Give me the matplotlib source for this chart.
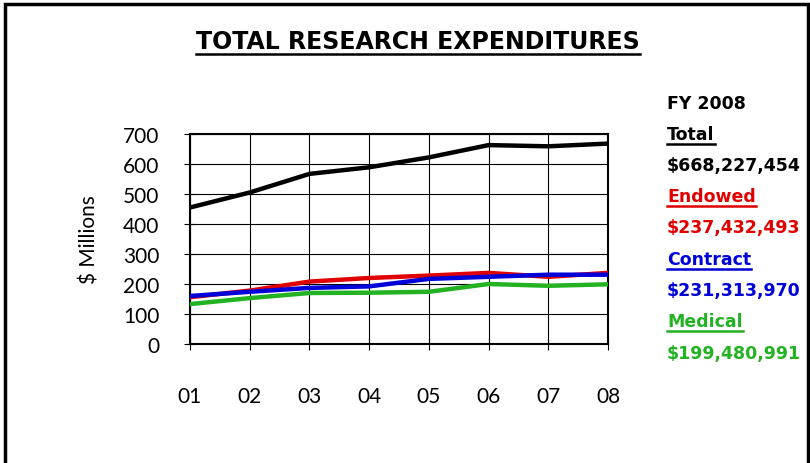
import matplotlib
matplotlib.use("Agg")
import matplotlib.pyplot as plt
from matplotlib.patches import Rectangle

years = ["01", "02", "03", "04", "05", "06", "07", "08"]
total = [455, 505, 567, 589, 622, 663, 659, 668]
endowed = [156, 178, 208, 220, 228, 237, 224, 237]
contract = [160, 174, 187, 192, 217, 224, 231, 231]
medical = [133, 153, 170, 171, 174, 200, 194, 199]

legend_labels = ["Total", "Endowed", "Contract", "Medical"]
legend_amounts = ["$668,227,454", "$237,432,493", "$231,313,970", "$199,480,991"]
legend_colors = ["black", "#e00000", "#0000d8", "#22b222"]

plt.rcParams["font.family"] = ["Lato", "DejaVu Sans"]

fig = plt.figure(figsize=(8.1, 4.64), dpi=100)
ax = fig.add_axes([190 / 810, 1 - 345 / 464, 418 / 810, 210 / 464])

x = list(range(len(years)))
ax.plot(x, total, color=legend_colors[0], lw=3.2, zorder=3)
ax.plot(x, endowed, color=legend_colors[1], lw=3.2, zorder=3)
ax.plot(x, contract, color=legend_colors[2], lw=3.2, zorder=4)
ax.plot(x, medical, color=legend_colors[3], lw=3.2, zorder=3)

ax.set_xlim(0, len(years) - 1)
ax.set_ylim(0, 700)
ax.set_yticks(range(0, 701, 100))
ax.set_xticks(x)
ax.set_xticklabels(years)
ax.grid(True, color="black", lw=0.8)
ax.tick_params(axis="x", direction="inout", length=8, pad=26, labelsize=15)
ax.tick_params(axis="y", direction="inout", length=8, pad=18, labelsize=15)
for s in ax.spines.values():
    s.set_linewidth(1.5)
ax.set_ylabel("$ Millions", fontsize=15, labelpad=17)

# outer frame
fig.patches.append(Rectangle((5 / 810, -0.05), 803 / 810, 1.05 - 5 / 464,
                             transform=fig.transFigure, fill=False,
                             edgecolor="black", lw=2.5))

texts = []
t = fig.text(418 / 810, 1 - 42 / 464, "TOTAL RESEARCH EXPENDITURES",
             ha="center", va="center", fontsize=17, fontweight="bold",
             family=["DejaVu Sans"])
texts.append(t)

fig.text(667 / 810, 1 - 104 / 464, "FY 2008", fontsize=12.5, fontweight="bold",
         va="center", family=["DejaVu Sans"])
ys = [135, 166, 197, 228, 260, 291, 322, 354]
for i in range(4):
    lab = fig.text(667 / 810, 1 - ys[2 * i] / 464, legend_labels[i], fontsize=12.5,
                   fontweight="bold", color=legend_colors[i], va="center",
                   family=["DejaVu Sans"])
    texts.append(lab)
    fig.text(667 / 810, 1 - ys[2 * i + 1] / 464, legend_amounts[i], fontsize=12.5,
             fontweight="bold", color=legend_colors[i], va="center",
             family=["DejaVu Sans"])

# underline title and legend labels
fig.canvas.draw()
r = fig.canvas.get_renderer()
for t in texts:
    bb = t.get_window_extent(renderer=r)
    yline = bb.y0 - 1
    fig.add_artist(plt.Line2D([bb.x0 / 810, bb.x1 / 810], [yline / 464, yline / 464],
                              transform=fig.transFigure, color=t.get_color(), lw=1.8))

fig.savefig("out.png", dpi=100)
